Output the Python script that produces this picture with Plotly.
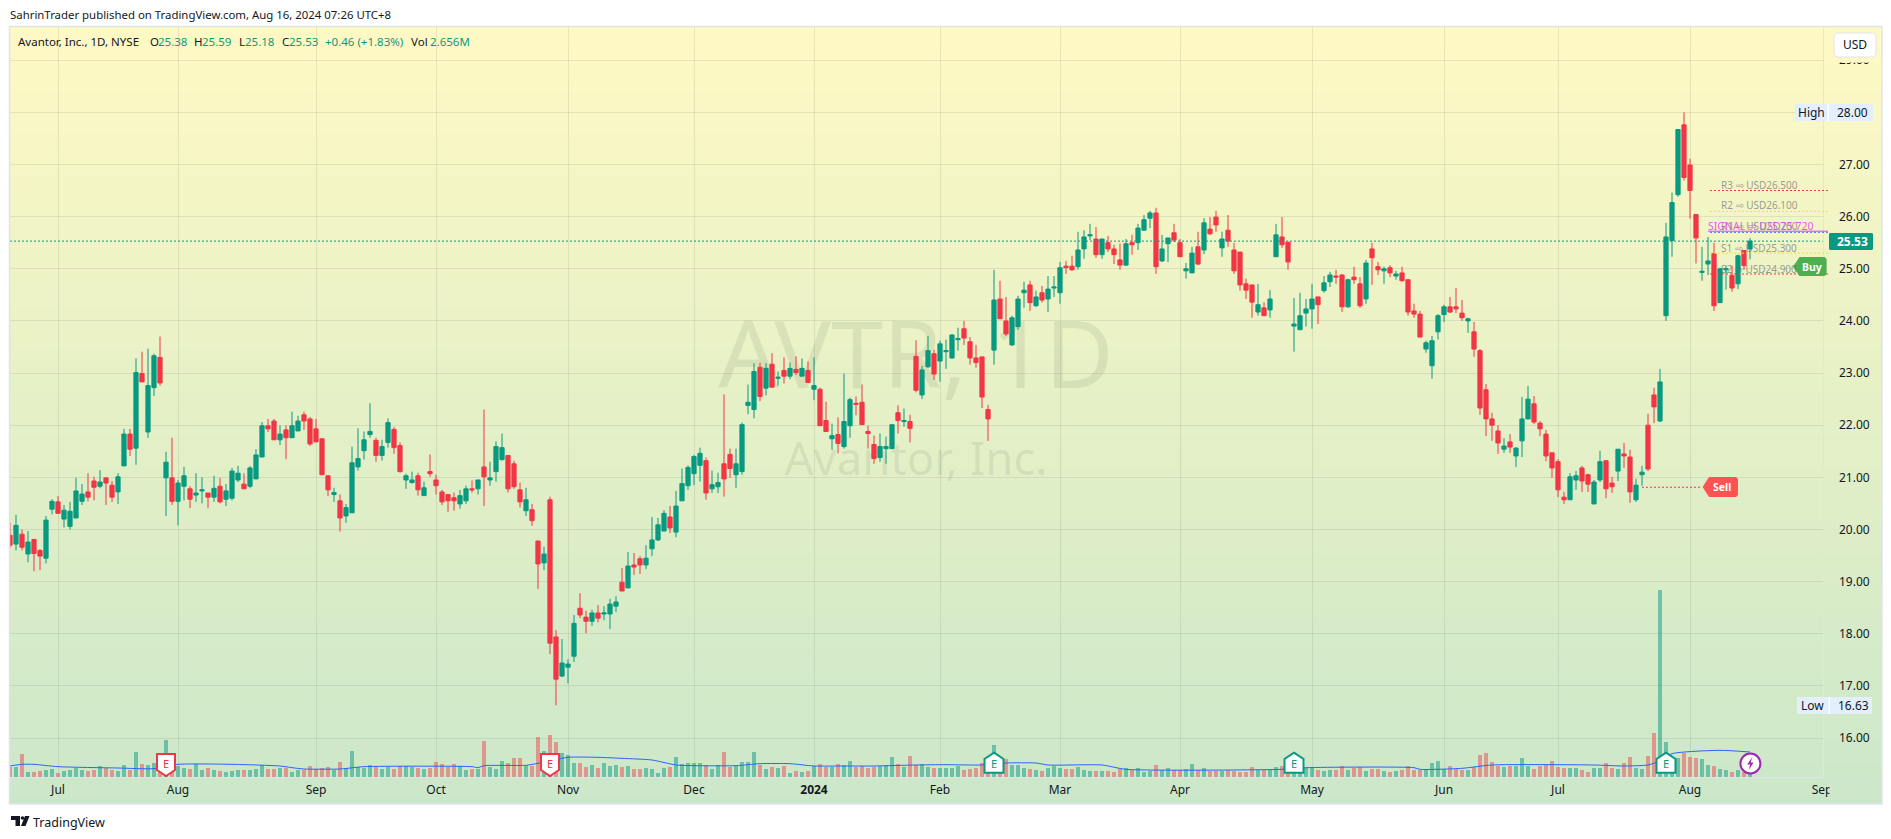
import numpy as np
import plotly.graph_objects as go

# ---------- data (bar index 0 = first trading day of Jul 2023) ----------
first_bar = -8
opens = [19.89,19.72,19.91,19.53,19.81,19.60,19.45,20.39,20.53,20.20,
20.06,20.22,20.54,20.72,20.93,20.83,20.99,20.85,20.72,21.22,
21.83,21.56,22.99,21.87,22.72,23.30,20.99,20.99,20.54,20.83,
20.78,20.66,20.74,20.70,20.62,20.83,20.58,20.60,20.95,20.87,
20.83,20.97,21.39,21.99,22.08,21.72,21.91,21.76,21.89,22.20,
22.12,21.93,21.74,21.03,20.67,20.55,20.26,20.32,21.20,21.51,
21.82,21.71,21.42,21.67,21.92,21.61,20.95,20.90,21.03,20.65,
21.11,20.95,20.72,20.67,20.61,20.49,20.55,20.78,20.78,21.20,
20.95,21.11,21.34,21.42,21.26,20.76,20.36,20.38,19.78,19.36,
20.57,17.94,17.19,17.36,17.57,18.49,18.32,18.24,18.40,18.38,
18.38,18.53,18.99,18.88,19.32,19.44,19.32,19.63,19.80,19.97,
20.24,19.95,20.55,20.84,21.07,21.23,21.32,20.78,20.82,21.26,
21.44,21.05,21.11,22.38,22.30,23.11,22.71,23.17,22.90,23.05,
22.94,23.07,22.94,23.05,22.69,22.69,22.09,21.74,21.82,21.59,
21.99,22.42,22.44,21.88,21.63,21.38,21.55,21.55,22.24,22.07,
22.07,23.32,22.58,23.12,23.37,23.23,23.41,23.29,23.64,23.85,
23.60,23.29,23.31,22.30,23.44,24.42,24.00,23.54,23.89,24.54,
24.69,24.29,24.54,24.42,24.63,24.54,25.05,25.05,25.04,25.38,
25.63,25.57,25.27,25.50,25.38,25.17,25.07,25.50,25.50,25.74,
25.97,26.07,25.15,25.48,25.69,25.50,24.96,24.92,25.42,25.36,
25.76,25.99,25.40,25.74,25.36,25.32,24.71,24.69,24.17,24.25,
24.21,25.23,25.61,25.51,23.90,23.83,24.15,24.23,24.46,24.58,
24.75,24.86,24.88,24.27,24.84,24.71,24.42,25.38,25.04,24.96,
25.02,24.86,24.92,24.79,24.19,24.13,23.46,23.14,23.79,24.12,
24.27,24.27,24.15,24.00,23.79,23.43,22.68,22.12,21.89,21.54,
21.68,21.41,21.70,22.12,22.41,22.04,21.83,21.47,21.30,20.62,
20.57,20.95,21.18,21.05,20.49,20.95,21.32,20.89,21.12,21.45,
21.39,20.57,21.05,22.00,22.58,22.08,24.10,25.54,26.42,27.76,
26.99,26.04,24.93,25.09,25.29,24.35,24.98,24.87,24.71,25.35,
25.38]
highs = [20.13,20.28,20.00,19.97,19.81,19.62,20.26,20.58,20.64,20.47,
20.53,20.99,20.87,21.08,21.01,21.14,20.99,20.93,21.08,21.93,
21.93,23.28,23.41,23.47,23.37,23.70,21.49,21.76,20.95,21.20,
20.83,21.08,21.00,20.70,21.03,20.99,20.87,21.18,21.22,21.08,
21.22,21.54,22.06,22.12,22.12,22.00,22.00,22.26,22.18,22.26,
22.16,22.12,21.74,21.03,20.80,20.67,20.49,21.59,21.94,21.88,
22.42,21.76,21.72,22.13,21.97,21.67,21.07,21.11,21.09,20.92,
21.44,21.05,20.76,20.67,20.71,20.76,20.84,20.94,20.95,22.30,
21.30,21.69,21.84,21.42,21.32,20.90,20.80,20.49,19.78,19.67,
20.63,18.07,17.90,17.51,18.36,18.78,18.44,18.46,18.55,18.53,
18.67,18.72,19.26,19.57,19.55,19.49,19.70,20.24,20.22,20.37,
20.45,20.74,21.17,21.23,21.43,21.57,21.38,21.13,21.09,22.59,
21.55,21.55,22.05,22.78,23.19,23.20,23.19,23.38,23.03,23.30,
23.20,23.32,23.28,23.22,23.30,22.72,22.45,22.03,22.15,22.99,
22.53,22.55,22.78,21.99,21.80,21.84,21.78,22.01,22.38,22.32,
22.20,23.63,23.14,23.71,23.45,23.62,23.64,23.75,23.87,24.00,
23.69,23.54,23.31,22.39,24.98,24.77,24.46,24.10,24.48,24.75,
24.77,24.58,24.67,24.86,24.86,25.13,25.15,25.25,25.71,25.74,
25.86,25.80,25.57,25.63,25.46,25.48,25.57,25.65,25.86,26.03,
26.11,26.17,25.65,25.59,25.86,25.57,25.11,25.42,25.71,25.97,
25.99,26.11,25.71,26.03,25.50,25.32,24.81,24.69,24.71,24.36,
24.59,25.86,25.99,25.51,24.44,24.54,24.42,24.71,24.46,24.86,
24.94,24.98,24.90,24.81,25.04,24.84,25.17,25.50,25.13,25.04,
25.07,24.96,25.04,24.79,24.33,24.19,23.62,23.71,24.13,24.31,
24.46,24.63,24.40,24.06,23.98,23.46,22.79,22.24,22.00,21.75,
21.83,21.58,22.54,22.75,22.56,22.08,21.91,21.47,21.35,20.72,
21.08,21.12,21.22,21.07,20.95,21.51,21.32,21.01,21.54,21.66,
21.53,20.97,21.22,22.22,22.72,23.08,25.88,26.46,27.67,28.00,
27.11,26.05,25.42,25.61,25.50,25.02,25.06,25.06,25.27,25.35,
25.59]
lows = [19.65,19.60,19.60,19.37,19.20,19.22,19.35,20.29,20.31,20.04,
20.00,20.22,20.47,20.54,20.56,20.79,20.47,20.53,20.49,21.22,
21.41,21.24,22.83,21.76,22.56,22.76,20.26,20.47,20.08,20.56,
20.41,20.53,20.50,20.41,20.53,20.50,20.45,20.56,20.91,20.78,
20.79,20.97,21.39,21.87,21.72,21.62,21.35,21.76,21.89,21.91,
21.60,21.68,21.05,20.64,20.53,19.96,20.13,20.32,21.13,21.34,
21.76,21.30,21.32,21.57,21.45,21.09,20.78,20.88,20.65,20.65,
21.01,20.67,20.47,20.34,20.36,20.40,20.49,20.71,20.67,20.45,
20.84,20.92,21.32,20.71,20.78,20.42,20.26,20.07,18.86,19.22,
17.61,16.63,17.17,17.05,17.46,18.30,18.01,18.15,18.22,18.26,
18.09,18.42,18.82,18.88,19.13,19.15,19.24,19.49,19.78,19.97,
19.93,19.85,20.55,20.76,20.85,20.92,20.57,20.70,20.70,20.63,
20.99,20.80,21.05,22.21,22.13,22.46,22.57,22.73,22.76,22.80,
22.88,22.96,22.94,22.82,22.48,21.99,21.88,21.53,21.46,21.55,
21.76,22.19,22.01,21.55,21.26,21.30,21.26,21.55,21.84,21.97,
21.67,22.63,22.50,23.10,22.87,22.83,23.08,23.27,23.43,23.54,
23.16,23.10,22.33,21.70,23.16,24.04,23.71,23.52,23.83,24.25,
24.19,24.27,24.35,24.17,24.46,24.33,24.90,24.96,24.98,25.19,
25.55,25.21,25.19,25.32,25.09,24.98,25.05,25.27,25.36,25.73,
25.78,24.90,25.13,25.13,25.51,25.23,24.81,24.92,25.07,25.28,
25.65,25.71,25.23,25.42,24.90,24.58,24.42,24.06,24.10,24.10,
24.06,25.23,25.40,24.98,23.41,23.83,23.89,23.85,23.94,24.54,
24.65,24.71,24.17,24.25,24.71,24.25,24.33,24.69,24.88,24.71,
24.84,24.79,24.75,24.10,24.06,23.69,23.39,22.89,23.64,23.98,
24.15,24.15,24.00,23.77,23.31,22.20,21.79,21.70,21.45,21.47,
21.47,21.20,21.39,22.12,22.02,21.79,21.31,20.99,20.62,20.49,
20.57,20.76,20.72,20.72,20.49,20.91,20.60,20.70,20.93,21.18,
20.51,20.53,20.84,21.12,22.04,22.06,24.00,25.23,26.38,26.69,
25.96,25.10,24.77,24.88,24.19,24.35,24.60,24.56,24.61,24.98,
25.18]
closes = [19.70,20.08,19.66,19.76,19.54,19.49,20.18,20.54,20.31,20.37,
20.35,20.74,20.68,20.62,20.81,20.91,20.89,20.62,21.01,21.83,
21.54,23.01,22.83,22.76,23.33,22.81,21.29,20.54,20.89,21.03,
20.58,20.70,20.76,20.62,20.79,20.53,20.74,21.12,21.08,20.78,
21.18,21.43,21.99,21.93,21.72,21.83,21.76,21.99,22.08,22.08,
21.64,21.68,21.05,20.76,20.71,20.22,20.42,21.28,21.36,21.72,
21.88,21.42,21.59,22.05,21.57,21.11,21.03,20.95,20.76,20.80,
21.07,20.84,20.53,20.55,20.55,20.65,20.78,20.76,20.95,21.01,
20.99,21.59,21.57,20.78,20.82,20.53,20.57,20.17,19.34,19.53,
17.82,17.13,17.44,17.42,18.20,18.36,18.24,18.40,18.30,18.40,
18.57,18.61,18.82,19.30,19.28,19.32,19.45,19.80,20.09,20.31,
20.03,20.45,20.88,21.19,21.40,21.46,20.70,20.86,20.90,20.97,
21.17,21.26,22.01,22.44,23.03,22.55,23.09,22.73,22.92,22.94,
23.09,23.01,23.09,22.82,22.76,21.99,21.88,21.80,21.65,22.07,
22.49,22.40,22.01,21.84,21.36,21.59,21.59,22.01,22.09,22.09,
21.94,22.67,23.06,23.43,22.98,23.56,23.43,23.73,23.66,23.67,
23.29,23.20,22.54,22.12,24.40,24.04,23.75,24.06,24.42,24.59,
24.35,24.46,24.40,24.61,24.65,25.02,25.02,24.98,25.36,25.61,
25.65,25.27,25.57,25.38,25.27,25.07,25.48,25.46,25.78,25.94,
26.07,25.04,25.38,25.59,25.55,25.23,25.00,25.30,25.09,25.88,
25.67,25.84,25.57,25.53,24.96,24.69,24.59,24.36,24.31,24.10,
24.42,25.65,25.46,25.13,23.94,24.10,24.23,24.42,24.31,24.73,
24.88,24.84,24.27,24.79,24.79,24.29,25.11,25.21,24.98,25.00,
24.92,24.90,24.77,24.17,24.13,23.69,23.58,23.62,24.10,24.27,
24.17,24.23,24.06,24.04,23.46,22.33,22.12,22.00,21.66,21.60,
21.58,21.56,22.12,22.50,22.06,21.93,21.41,21.18,20.76,20.57,
21.01,21.03,20.93,20.87,20.91,21.30,20.78,20.82,21.54,21.41,
20.72,20.85,21.10,21.16,22.35,22.83,25.61,26.27,27.67,26.75,
26.50,25.59,24.95,25.15,24.29,25.00,25.00,24.63,25.25,25.06,
25.53]
volumes = [30,31,69,15,15,18,22,24,
12,18,21,28,20,17,20,33,26,22,
17,36,22,76,39,36,42,40,111,33,
32,26,24,38,22,27,22,18,15,18,
22,22,22,24,36,24,24,26,27,15,
20,22,33,24,26,30,22,45,28,78,
30,28,36,30,24,30,24,32,33,30,
28,25,28,45,38,30,38,33,22,24,
25,108,30,25,48,42,57,57,33,33,
120,78,126,105,72,66,42,42,30,36,
27,42,33,36,30,33,24,24,28,24,
12,27,30,60,38,42,42,42,36,24,
36,75,30,33,45,45,75,36,24,30,
27,33,12,18,15,18,33,39,30,30,
39,36,48,30,33,27,30,33,36,60,
39,30,63,36,39,30,27,27,27,27,
33,21,24,27,42,30,96,30,54,36,
36,27,24,21,18,27,33,27,24,24,
30,21,18,18,18,18,15,24,27,21,
27,15,18,36,21,27,21,21,24,39,
21,27,18,18,18,21,18,15,15,30,
21,21,21,30,33,12,33,30,27,27,
21,18,21,21,33,21,27,30,18,24,
24,18,15,18,21,33,21,21,24,42,
48,24,33,24,21,21,30,66,72,45,
33,30,33,33,57,33,24,33,36,48,
30,27,27,27,21,15,27,27,42,27,
24,42,60,27,24,63,132,561,105,45,
57,72,60,57,54,36,33,24,21,15,
21,15,12]
vol_ma_bars = [-8,-6,-4,0,10,16,20,29,37,39,41,47,51,69,70,71,78,80,85,90,94,99,103,106,113,117,122,126,131,136,143,148,
               154,158,163,165,174,178,204,208,226,227,234,239,256,261,265,267,269,277,282]
vol_ma_vals = [33,38,38,31,27,25,38,38,33,28,24,24,31,31,28,34,35,41,59,59,56,51,36,34,34,40,40,33,33,33,36,37,
               36,42,42,36,36,23,23,28,28,23,26,36,36,33,36,48,70,80,75]
month_ticks = [0,20,43,63,85,106,126,147,167,187,209,231,250,272,294]
month_labels = ["Jul","Aug","Sep","Oct","Nov","Dec","<b>2024</b>","Feb","Mar","Apr","May","Jun","Jul","Aug","Sep"]
pivot_names = ["R3","R2","R1","S1","S2"]
pivot_levels = [26.5,26.1,25.7,25.3,24.9]
pivot_colors = ["#F23645","#E8E23A","#2962FF","#E8E23A","#F23645"]
signal_level = 25.72
last_price = 25.53
sell_level = 20.81
earn_down_bars = [18,82]
earn_up_bars = [156,206,268]
last_bar = 282

assert len(opens)==len(highs)==len(lows)==len(closes)==len(volumes)==291, (len(opens),len(highs),len(lows),len(closes),len(volumes))
bars = list(range(first_bar, first_bar+len(opens)))

# ---------- geometry (browser px) ----------
W,H = 1891,839
FL,FT,FR,FB = 10,27,1882,804      # widget frame
PR,PB = 1822.6,777                # chart pane right / bottom
GREEN,RED = "#089981","#F23645"
INK = "#131722"
FONT = "Noto Sans"
fx = lambda p: p/W
fy = lambda p: 1-p/H
bx = lambda i: 58+6*i             # bar index -> px

TOP,BOT = (255,249,196),(203,231,201)
def grad(py):
    t=(py-FT)/(FB-FT)
    return "rgb(%d,%d,%d)"%tuple(round(a+(b-a)*t) for a,b in zip(TOP,BOT))

fig = go.Figure()
# gradient widget background + watermark on the lowest subplot
rows = 300
fig.add_trace(go.Heatmap(z=[[r/rows] for r in range(rows)], x=[0,1], y=np.linspace(0,1,rows+1),
    zmin=0,zmax=1,colorscale=[[0,"rgb(%d,%d,%d)"%BOT],[1,"rgb(%d,%d,%d)"%TOP]],showscale=False,hoverinfo="skip",xaxis="x",yaxis="y"))
wmx = lambda p:(p-FL)/(FR-FL)
wmy = lambda p:1-(p-FT)/(FB-FT)
fig.add_trace(go.Scatter(x=[wmx(916),wmx(916)],y=[wmy(364),wmy(464)],mode="text",text=["AVTR, 1D","Avantor, Inc."],
    textfont=dict(family=FONT,size=[94,45.5],color="rgba(60,75,60,0.10)"),textposition="middle center",hoverinfo="skip",showlegend=False,xaxis="x",yaxis="y"))

fig.add_trace(go.Candlestick(x=bars,open=opens,high=highs,low=lows,close=closes,
    increasing=dict(line=dict(color=GREEN,width=1),fillcolor=GREEN),
    decreasing=dict(line=dict(color=RED,width=1),fillcolor=RED),
    whiskerwidth=0,showlegend=False,hoverinfo="skip",xaxis="x2",yaxis="y2"))
vol_colors = ["rgba(8,153,129,0.5)" if c>=o else "rgba(242,54,69,0.45)" for o,c in zip(opens,closes)]
fig.add_trace(go.Bar(x=bars,y=volumes,marker=dict(color=vol_colors,line=dict(width=0)),width=0.8,showlegend=False,hoverinfo="skip",xaxis="x2",yaxis="y3"))
fig.add_trace(go.Scatter(x=vol_ma_bars,y=vol_ma_vals,mode="lines",line=dict(color="#2962FF",width=1,shape="spline",smoothing=0.6),showlegend=False,hoverinfo="skip",xaxis="x2",yaxis="y3"))

GRID="rgba(60,70,60,0.11)"
AXL="#E0E3EB"
fig.update_layout(
    width=W,height=H,autosize=False,margin=dict(l=0,r=0,t=0,b=0),paper_bgcolor="white",plot_bgcolor="rgba(0,0,0,0)",
    showlegend=False,boxgap=0.3,boxgroupgap=0,bargap=0,barmode="overlay",
    xaxis=dict(domain=[fx(FL),fx(FR)],range=[0,1],visible=False,anchor="y",fixedrange=True,automargin=False),
    yaxis=dict(domain=[fy(FB),fy(FT)],range=[0,1],visible=False,anchor="x",fixedrange=True,automargin=False),
    xaxis2=dict(domain=[fx(FL),fx(PR)],range=[-8,(PR-58)/6],anchor="y2",tickmode="array",tickvals=month_ticks,ticktext=month_labels,
        showgrid=True,gridcolor=GRID,gridwidth=1,zeroline=False,showline=True,linecolor=AXL,linewidth=1,automargin=False,
        ticks="outside",ticklen=2,tickcolor="rgba(0,0,0,0)",tickfont=dict(family=FONT,size=12,color=INK),
        rangeslider=dict(visible=False),fixedrange=True),
    yaxis2=dict(domain=[fy(PB),fy(FT)],range=[28-(PB-112.3)/52.15,28+(112.3-FT)/52.15],anchor="x2",side="right",automargin=False,
        tick0=16,dtick=1,tickformat=".2f",showgrid=True,gridcolor=GRID,gridwidth=1,zeroline=False,showline=True,linecolor=AXL,linewidth=1,
        ticks="outside",ticklen=13,tickcolor="rgba(0,0,0,0)",tickfont=dict(family=FONT,size=12,color=INK),fixedrange=True),
    yaxis3=dict(overlaying="y2",range=[0,(PB-FT)*3],visible=False,fixedrange=True,automargin=False),
)

shapes=[]; ann=[]
def path(pts,close=True):
    return "M"+" L".join(f"{fx(x):.6f},{fy(y):.6f}" for x,y in pts)+(" Z" if close else "")
def poly(pts,fill,line=None,lw=0):
    shapes.append(dict(type="path",xref="paper",yref="paper",path=path(pts),fillcolor=fill,line=dict(color=line or fill,width=lw),layer="above"))
def rect(x0,y0,x1,y1,fill="rgba(0,0,0,0)",line=None,lw=0):
    shapes.append(dict(type="rect",xref="paper",yref="paper",x0=fx(x0),x1=fx(x1),y0=fy(y1),y1=fy(y0),fillcolor=fill,line=dict(color=line or "rgba(0,0,0,0)",width=lw),layer="above"))
def rrect(x0,y0,x1,y1,r,fill,line=None,lw=0):
    steps=[]
    for cx,cy,a0 in [(x1-r,y0+r,-90),(x1-r,y1-r,0),(x0+r,y1-r,90),(x0+r,y0+r,180)]:
        for k in range(5):
            a=np.radians(a0+k*22.5); steps.append((cx+r*np.cos(a),cy+r*np.sin(a)))
    poly(steps,fill,line,lw)
def text(px,py,t,size=12,color=INK,anchor="left",family=FONT):
    ann.append(dict(xref="paper",yref="paper",x=fx(px),y=fy(py),text=t,showarrow=False,xanchor=anchor,yanchor="middle",
                    font=dict(family=family,size=size,color=color),borderpad=0,borderwidth=0))
def level(x0,x1,price,color,dash="2px,2px",lw=1,xref="paper"):
    shapes.append(dict(type="line",xref=xref,yref="y2",x0=x0,x1=x1,y0=price,y1=price,line=dict(color=color,width=lw,dash=dash),layer="above"))

# last price line
level(fx(FL),fx(PR),last_price,GREEN)
# pivots
PV="rgba(105,110,120,0.68)"
pivot_rows=[185.2,205,226,247.7,268.7]
for n,l,c,yy in zip(pivot_names,pivot_levels,pivot_colors,pivot_rows):
    level(fx(1710),fx(1828),l,c)
    text(1721,yy,f"{n} ⇨ USD{l:.3f}",10,PV)
level(fx(1708),fx(1828),signal_level,"#E040FB",dash="solid")
text(1708,225.7,f"SIGNAL ⇨ USD{signal_level:.3f}",10.5,"rgba(224,64,251,0.85)")
# sell tag
level(last_bar-18,last_bar-8,sell_level,RED,xref="x2")
poly([(1702.6,487),(1709,477),(1736,477),(1738,479),(1738,495),(1736,497),(1709,497)],"#FF5252")
text(1722,487,"<b>Sell</b>",10.5,"white","center")
# buy tag
poly([(1793,266.7),(1799.5,257),(1824.5,257),(1826.6,259),(1826.6,274),(1824.5,276),(1799.5,276)],"#4CAF50")
text(1812,266.5,"<b>Buy</b>",10.5,"white","center")
# High / Low / last badges
rect(1795,104,1873,121,"#E3EFFD"); rect(1827.5,104,1829,121,"white")
text(1811,112,"High",12,INK,"center"); text(1852,112,"28.00",12,INK,"center")
rect(1797,697,1872,714,"#E3EFFD"); rect(1828.5,697,1830,714,"white")
text(1812,705.5,"Low",12,INK,"center"); text(1853,705.5,"16.63",12,INK,"center")
rrect(1829,233,1873,250,1.5,GREEN)
text(1852,241,"<b>25.53</b>",12,"white","center")
# currency button (the price scale fades out behind it)
rect(1829,28,1880,62.5,grad(45))
rrect(1834,33,1876,57,4,"white",AXL,1)
text(1855,45,"USD",12,INK,"center")
# clip of the last month label
rect(1829.5,781,1880,799,grad(790))
# frame
rect(FL-0.5,FT-0.5,FR,FB,"rgba(0,0,0,0)",AXL,1.5)
# earnings / lightning markers
for b in earn_down_bars:
    c=bx(b)
    poly([(c-9,754),(c+9,754),(c+9,770),(c,776),(c-9,770)],"white",RED,2)
    text(c,763,"E",11,RED,"center")
for b in earn_up_bars:
    c=bx(b)
    poly([(c,752.7),(c+9.5,759),(c+9.5,772.7),(c-9.5,772.7),(c-9.5,759)],"white",GREEN,2)
    text(c,763.5,"E",11,GREEN,"center")
c=bx(last_bar)+0.4
shapes.append(dict(type="circle",xref="paper",yref="paper",x0=fx(c-10),x1=fx(c+10),y0=fy(773.5),y1=fy(753.5),fillcolor="white",line=dict(color="#9C27B0",width=2),layer="above"))
poly([(c+1.8,757),(c-3.2,764.5),(c-0.2,764.5),(c-1.8,770),(c+3.2,762.5),(c+0.2,762.5)],"#9C27B0")
# header & legend
text(10,15,"SahrinTrader published on TradingView.com, Aug 16, 2024 07:26 UTC+8",11.4,INK)
L=42
for px,t,col in [(18,"Avantor, Inc., 1D, NYSE",INK),(149.5,"O",INK),(157.5,"25.38",GREEN),(194,"H",INK),(202,"25.59",GREEN),
                 (239,"L",INK),(245,"25.18",GREEN),(282,"C",INK),(289,"25.53",GREEN),(325,"+0.46 (+1.83%)",GREEN),
                 (411,"Vol",INK),(430,"2.656M",GREEN)]:
    text(px,L,t,11.5,col)
# footer logo
poly([(11,816),(20,816),(20,826),(15.5,826),(15.5,820),(11,820)],INK)
shapes.append(dict(type="circle",xref="paper",yref="paper",x0=fx(20.7),x1=fx(24.3),y0=fy(819.8),y1=fy(816.2),fillcolor=INK,line=dict(width=0),layer="above"))
poly([(25,816),(29.5,816),(25.5,826),(21,826)],INK)
text(33,822,"TradingView",12.5,INK)

fig.update_layout(shapes=shapes,annotations=ann)
fig.write_html("out.html",config={"displayModeBar":False,"staticPlot":True},post_script="document.body.style.margin='0';document.body.style.overflow='hidden';")
